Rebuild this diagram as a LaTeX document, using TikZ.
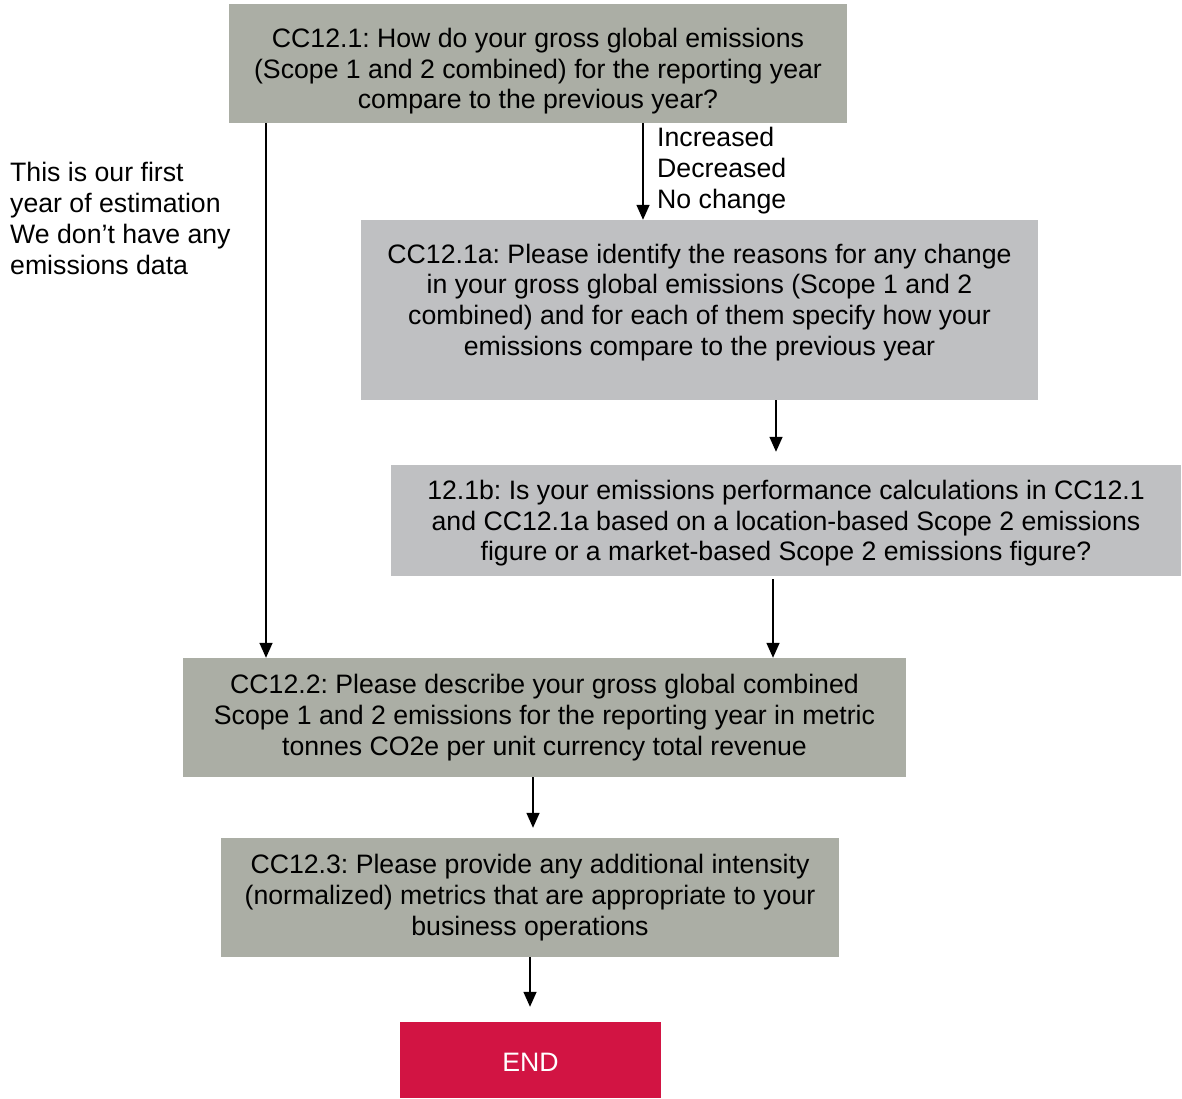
\documentclass[tikz,border=0pt]{standalone}
\usepackage{fontspec}
\setmainfont{Liberation Sans}
\usetikzlibrary{arrows.meta}
\definecolor{sage}{HTML}{ABAEA5}
\definecolor{ltgray}{HTML}{BFC0C2}
\definecolor{endred}{HTML}{D21443}
\frenchspacing
\begin{document}
\begin{tikzpicture}[x=1pt,y=-1pt,
  every node/.style={font=\fontsize{26.67}{30.7}\selectfont, inner sep=0pt},
  qbox/.style={fill=sage, align=center, anchor=center},
  lbox/.style={fill=ltgray, align=center, anchor=center},
  endbox/.style={fill=endred, text=white, anchor=center},
  note/.style={align=left},
  arr/.style={line width=1.5pt, -{Triangle[length=15pt,width=13pt]}}]
\useasboundingbox (0,0) rectangle (1182,1099);

\node[qbox, minimum width=618, minimum height=119, text height=91pt, text depth=0pt] (q1) at (538,63.5)
  {CC12.1: How do your gross global emissions\\(Scope 1 and 2 combined) for the reporting year\\compare to the previous year?};
\node[lbox, minimum width=677, minimum height=180, text depth=21pt] (q1a) at (699.5,310)
  {CC12.1a: Please identify the reasons for any change\\in your gross global emissions (Scope 1 and 2\\combined) and for each of them specify how your\\emissions compare to the previous year};
\node[lbox, minimum width=790, minimum height=111, text depth=-1.4pt] (q1b) at (786,520.5)
  {12.1b: Is your emissions performance calculations in CC12.1\\and CC12.1a based on a location-based Scope 2 emissions\\figure or a market-based Scope 2 emissions figure?};
\node[qbox, minimum width=723, minimum height=119] (q2) at (544.5,717.5)
  {CC12.2: Please describe your gross global combined\\Scope 1 and 2 emissions for the reporting year in metric\\tonnes CO2e per unit currency total revenue};
\node[qbox, minimum width=618, minimum height=119] (q3) at (530,897.5)
  {CC12.3: Please provide any additional intensity\\(normalized) metrics that are appropriate to your\\business operations};
\node[endbox, minimum width=261, minimum height=76, text height=23pt, text depth=0pt] (end) at (530.5,1060) {END};

% answer labels
\node[note, anchor=west] (nodata) at (10,218.5)
  {This is our first\\year of estimation\\We don’t have any\\emissions data};
\node[note, anchor=west] (change) at (657,170.5)
  {Increased\\Decreased\\No change};

% connectors
\draw[arr] ([xshift=-272pt]q1.south) -- ([xshift=-278.5pt]q2.north);
\draw[arr] ([xshift=105pt]q1.south) -- ([xshift=-56.5pt]q1a.north);
\draw[arr, shorten >=13pt] ([xshift=76.5pt]q1a.south) -- ([xshift=-10pt]q1b.north);
\draw[arr, shorten <=3pt] ([xshift=-13pt]q1b.south) -- ([xshift=228.5pt]q2.north);
\draw[arr, shorten >=10pt] ([xshift=-11.5pt]q2.south) -- ([xshift=3pt]q3.north);
\draw[arr, shorten >=15pt] (q3.south) -- ([xshift=-0.5pt]end.north);
\end{tikzpicture}
\end{document}
